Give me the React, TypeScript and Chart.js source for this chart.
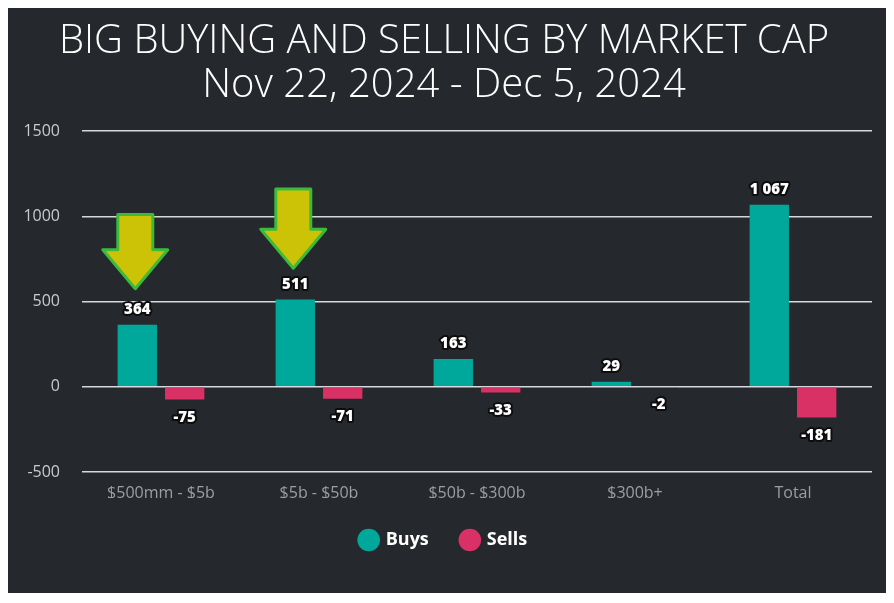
import React, { useEffect, useRef } from "react";
import { Chart, registerables } from "chart.js";

Chart.register(...registerables);

const titleLines = ["BIG BUYING AND SELLING BY MARKET CAP", "Nov 22, 2024 - Dec 5, 2024"];
const categories = ["$500mm - $5b", "$5b - $50b", "$50b - $300b", "$300b+", "Total"];
const seriesNames = ["Buys", "Sells"];
const buys = [364, 511, 163, 29, 1067];
const sells = [-75, -71, -33, -2, -181];
const yTicks = [-500, 0, 500, 1000, 1500];
// arrows pointing at the first two "Buys" bars: value at arrow top and tip
const arrowCategoryIndex = [0, 1];
const arrowTopValues = [1010, 1160];
const arrowTipValues = [575, 695];

const FONT = "'Open Sans', 'Noto Sans', sans-serif";

const fmt = (v: number) => {
  const s = Math.abs(v).toString().replace(/\B(?=(\d{3})+(?!\d))/g, " ");
  return (v < 0 ? "-" : "") + s;
};

const labelPlugin = {
  id: "valueLabels",
  afterDatasetsDraw(chart: any) {
    const ctx = chart.ctx;
    ctx.save();
    ctx.font = `800 15px ${FONT}`;
    ctx.textAlign = "center";
    ctx.textBaseline = "middle";
    ctx.lineJoin = "round";
    chart.data.datasets.forEach((ds: any, di: number) => {
      const meta = chart.getDatasetMeta(di);
      meta.data.forEach((el: any, i: number) => {
        const v = ds.data[i];
        const y = v >= 0 ? el.y - 15 : el.y + 18;
        const t = fmt(v);
        ctx.lineWidth = 4;
        ctx.strokeStyle = "#0d0d0d";
        ctx.strokeText(t, el.x, y);
        ctx.fillStyle = "#ffffff";
        ctx.fillText(t, el.x, y);
      });
    });
    ctx.restore();
  },
};

const arrowPlugin = {
  id: "arrows",
  afterDatasetsDraw(chart: any) {
    const ctx = chart.ctx;
    const meta = chart.getDatasetMeta(0);
    const ys = chart.scales.y;
    ctx.save();
    arrowCategoryIndex.forEach((ci, k) => {
      const cx = meta.data[ci].x - 2;
      const top = ys.getPixelForValue(arrowTopValues[k]);
      const tip = ys.getPixelForValue(arrowTipValues[k]);
      const shaft = 17.5;
      const head = 32.5;
      const headH = 39;
      const neck = tip - headH;
      ctx.beginPath();
      ctx.moveTo(cx - shaft, top);
      ctx.lineTo(cx + shaft, top);
      ctx.lineTo(cx + shaft, neck);
      ctx.lineTo(cx + head, neck);
      ctx.lineTo(cx, tip);
      ctx.lineTo(cx - head, neck);
      ctx.lineTo(cx - shaft, neck);
      ctx.closePath();
      ctx.fillStyle = "#cdc306";
      ctx.fill();
      ctx.lineWidth = 3;
      ctx.lineJoin = "round";
      ctx.strokeStyle = "#3cba3c";
      ctx.stroke();
    });
    ctx.restore();
  },
};

export default function App() {
  const ref = useRef<HTMLCanvasElement>(null);
  useEffect(() => {
    if (!ref.current) return;
    const chart = new Chart(ref.current, {
      type: "bar",
      data: {
        labels: categories,
        datasets: [
          {
            label: seriesNames[0],
            data: buys,
            backgroundColor: "#00a79b",
            categoryPercentage: 0.6,
            barPercentage: 0.83,
          },
          {
            label: seriesNames[1],
            data: sells,
            backgroundColor: "#d93065",
            categoryPercentage: 0.6,
            barPercentage: 0.83,
          },
        ],
      },
      options: {
        animation: false,
        responsive: false,
        maintainAspectRatio: false,
        layout: { padding: { left: 8, right: 15, top: 12, bottom: 34 } },
        plugins: {
          title: {
            display: true,
            text: titleLines,
            color: "#ffffff",
            font: { family: FONT, size: 40, weight: "300", lineHeight: 1.1 },
            padding: { top: 0, bottom: 23 },
          },
          legend: {
            position: "bottom",
            labels: {
              color: "#ffffff",
              font: { family: FONT, size: 18, weight: "bold" },
              usePointStyle: true,
              pointStyle: "circle",
              boxWidth: 16,
              boxHeight: 16,
              padding: 33,
            },
          },
          tooltip: { enabled: false },
        },
        scales: {
          x: {
            grid: { display: false },
            border: { display: false },
            ticks: { color: "#9b9fa3", font: { family: FONT, size: 16 }, padding: 4 },
            afterFit: (axis: any) => {
              axis.height = 26;
            },
          },
          y: {
            min: yTicks[0],
            max: yTicks[yTicks.length - 1],
            afterBuildTicks: (axis: any) => {
              axis.ticks = yTicks.map((v) => ({ value: v }));
            },
            afterFit: (axis: any) => {
              axis.width = 66;
            },
            grid: { color: "#d6d8db", lineWidth: 1.5, drawTicks: false },
            border: { display: false },
            ticks: {
              color: "#c9cbce",
              font: { family: FONT, size: 16 },
              padding: 22,
              callback: (v: any) => String(v),
            },
          },
        },
      },
      plugins: [labelPlugin, arrowPlugin],
    });
    return () => chart.destroy();
  }, []);
  return (
    <div style={{ width: 879, height: 585, background: "#25282c" }}>
      <canvas ref={ref} width={879} height={585} style={{ display: "block" }} />
    </div>
  );
}
